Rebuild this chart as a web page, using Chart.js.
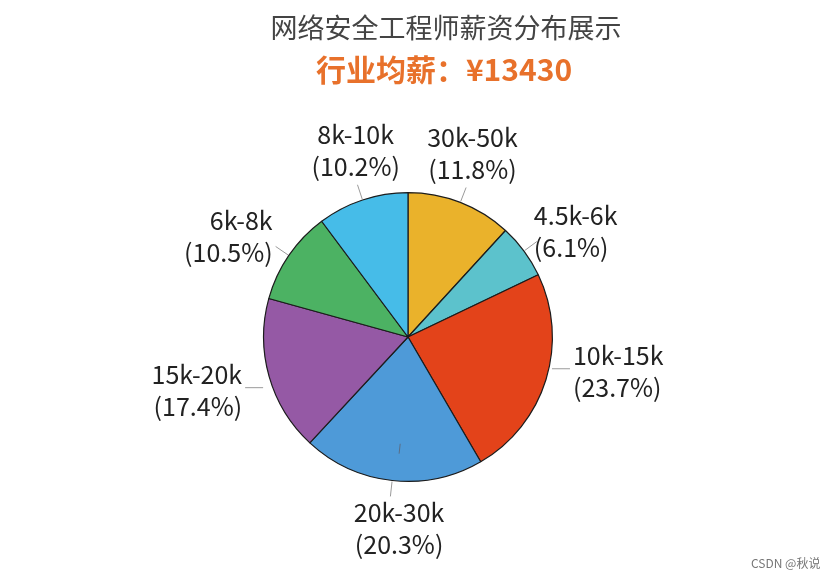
<!DOCTYPE html>
<html>
<head>
<meta charset="utf-8">
<script src="https://cdn.jsdelivr.net/npm/chart.js@4/dist/chart.umd.min.js"></script>
<style>
  html, body { margin: 0; padding: 0; background: #ffffff; }
  #wrap { width: 834px; height: 579px; position: relative; }
</style>
</head>
<body>
<div id="wrap"><canvas id="c" width="834" height="579"></canvas></div>
<script>
// ---- data ----
const categories = ['30k-50k', '4.5k-6k', '10k-15k', '20k-30k', '15k-20k', '6k-8k', '8k-10k'];
const shares = [11.8, 6.1, 23.7, 20.3, 17.4, 10.5, 10.2];
const sliceColors = ['#EAB22B', '#5CC2CC', '#E3431A', '#4E9AD8', '#9559A5', '#4CB263', '#46BCE8'];
const titleText = '网络安全工程师薪资分布展示';
const subtitleText = '行业均薪：¥13430';
const creditText = 'CSDN @秋说';

const labelFont = '25px "Noto Sans CJK SC", "Noto Sans", sans-serif';

const decorPlugin = {
  id: 'decor',
  afterDatasetsDraw(chart) {
    const ctx = chart.ctx;
    const meta = chart.getDatasetMeta(0);
    ctx.save();
    meta.data.forEach((arc, i) => {
      const p = arc.getProps(['x', 'y', 'startAngle', 'endAngle', 'outerRadius'], true);
      const mid = (p.startAngle + p.endAngle) / 2;
      const cx = Math.cos(mid), sy = Math.sin(mid);
      const r = p.outerRadius;
      const line1 = categories[i];
      const line2 = '(' + shares[i].toFixed(1) + '%)';
      const lh = 32;
      ctx.strokeStyle = '#9a9a9a';
      ctx.lineWidth = 1;
      ctx.font = labelFont;
      ctx.fillStyle = '#222222';
      ctx.textBaseline = 'middle';
      let tx, ty;
      if (Math.abs(sy) < 0.35) {
        // near-horizontal: short horizontal leader
        const sgn = Math.sign(cx);
        const sx = p.x + cx * (r + 1) + sgn * 5;
        const syy = p.y + sy * (r + 1) - 11 * sgn;
        const ex = sx + sgn * 18;
        ctx.beginPath(); ctx.moveTo(sx, syy); ctx.lineTo(ex, syy); ctx.stroke();
        tx = ex + sgn * 3; ty = syy;
        ctx.textAlign = cx > 0 ? 'left' : 'right';
        ctx.fillText(line1, tx, ty - lh / 2 + 3);
        ctx.fillText(line2, tx, ty + lh / 2 + 3);
      } else {
        const sx = p.x + cx * (r + 1), syy = p.y + sy * (r + 1);
        const ex = p.x + cx * (r + 16), ey = p.y + sy * (r + 16);
        ctx.beginPath(); ctx.moveTo(sx, syy); ctx.lineTo(ex, ey); ctx.stroke();
        if (Math.abs(cx) < 0.6) {
          ctx.textAlign = 'center';
          tx = ex + cx * 12;
          if (sy < 0) {
            ctx.fillText(line1, tx + 2, ey - 2 - lh * 1.5);
            ctx.fillText(line2, tx + 2, ey - 2 - lh * 0.5);
          } else {
            ctx.fillText(line1, tx + 10, ey + 0 + lh * 0.5);
            ctx.fillText(line2, tx + 10, ey + 0 + lh * 1.5);
            // small inner tick seen in the reference
            ctx.strokeStyle = '#5a6e86';
            ctx.beginPath();
            ctx.moveTo(p.x + cx * (r - 37) + 4, p.y + sy * (r - 37));
            ctx.lineTo(p.x + cx * (r - 27) + 4, p.y + sy * (r - 27));
            ctx.stroke();
          }
        } else {
          ctx.textAlign = cx > 0 ? 'left' : 'right';
          tx = ex - 3;
          const cyb = ey - 10;
          ctx.fillText(line1, tx, cyb - lh / 2);
          ctx.fillText(line2, tx, cyb + lh / 2);
        }
      }
    });
    // titles
    ctx.textAlign = 'center';
    ctx.textBaseline = 'middle';
    ctx.fillStyle = '#444444';
    ctx.font = '27px "Noto Sans CJK SC", sans-serif';
    ctx.fillText(titleText, 446, 28);
    ctx.fillStyle = '#E8712B';
    ctx.font = 'bold 30px "Noto Sans CJK SC", sans-serif';
    ctx.fillText(subtitleText, 444, 70);
    // credit
    ctx.textAlign = 'left';
    ctx.fillStyle = '#777777';
    ctx.font = '12px "Noto Sans CJK SC", sans-serif';
    ctx.fillText(creditText, 751, 563);
    ctx.restore();
  }
};

new Chart(document.getElementById('c'), {
  type: 'pie',
  data: {
    labels: categories,
    datasets: [{
      data: shares,
      backgroundColor: sliceColors,
      borderColor: '#1c1c1c',
      borderWidth: 1.2
    }]
  },
  options: {
    responsive: false,
    animation: false,
    layout: { padding: { top: 192, bottom: 97, left: 263, right: 281 } },
    plugins: {
      legend: { display: false },
      tooltip: { enabled: false },
      title: { display: false }
    }
  },
  plugins: [decorPlugin]
});
</script>
</body>
</html>
